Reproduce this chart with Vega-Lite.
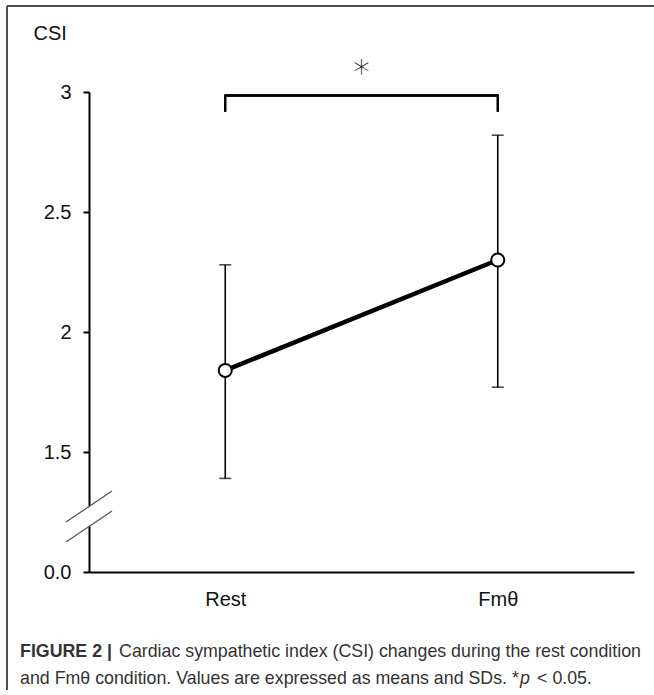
{
  "$schema": "https://vega.github.io/schema/vega-lite/v6.json",
  "width": 545,
  "height": 480,
  "autosize": "none",
  "padding": {"left": 89, "top": 92, "right": 20, "bottom": 123},
  "background": "white",
  "datasets": {
    "csi": [
      {"condition": "Rest", "mean": 1.84, "lo": 1.39, "hi": 2.28},
      {"condition": "Fmθ", "mean": 2.30, "lo": 1.77, "hi": 2.82}
    ]
  },
  "resolve": {"scale": {"x": "independent"}, "axis": {"x": "independent"}},
  "layer": [
    {
      "data": {"name": "csi"},
      "encoding": {
        "x": {
          "field": "condition",
          "type": "ordinal",
          "sort": ["Rest", "Fmθ"],
          "scale": {"type": "point", "padding": 0.5},
          "axis": {
            "title": null,
            "ticks": false,
            "labelAngle": 0,
            "labelPadding": 17,
            "labelFontSize": 20,
            "labelColor": "#111",
            "domainColor": "black",
            "domainWidth": 2
          }
        }
      },
      "layer": [
        {
          "mark": {"type": "rule", "color": "black", "strokeWidth": 1.6},
          "encoding": {
            "y": {
              "field": "lo",
              "type": "quantitative",
              "scale": {"domain": [1, 3], "nice": false, "zero": false},
              "axis": {
                "values": [1, 1.5, 2, 2.5, 3],
                "labelExpr": "datum.value == 1 ? '0.0' : toString(datum.value)",
                "grid": false,
                "title": "CSI",
                "titleAngle": 0,
                "titleAlign": "left",
                "titleBaseline": "alphabetic",
                "titleX": -56,
                "titleY": -53,
                "titleFontSize": 20,
                "titleFontWeight": "normal",
                "titleColor": "#111",
                "labelFontSize": 20,
                "labelColor": "#111",
                "labelPadding": 12,
                "tickSize": 6,
                "tickWidth": 2,
                "tickColor": "black",
                "domainColor": "black",
                "domainWidth": 2
              }
            },
            "y2": {"field": "hi"}
          }
        },
        {
          "mark": {"type": "tick", "color": "black", "thickness": 1.6, "size": 12},
          "encoding": {"y": {"field": "lo", "type": "quantitative"}}
        },
        {
          "mark": {"type": "tick", "color": "black", "thickness": 1.6, "size": 12},
          "encoding": {"y": {"field": "hi", "type": "quantitative"}}
        },
        {
          "mark": {"type": "line", "color": "black", "strokeWidth": 4.5},
          "encoding": {"y": {"field": "mean", "type": "quantitative"}}
        },
        {
          "mark": {"type": "point", "shape": "circle", "filled": true, "fill": "white", "stroke": "black", "strokeWidth": 2, "size": 170, "opacity": 1},
          "encoding": {"y": {"field": "mean", "type": "quantitative"}}
        },
        {
          "mark": {"type": "rule", "color": "black", "strokeWidth": 2.5},
          "encoding": {
            "x": {"datum": "Rest", "type": "ordinal"},
            "x2": {"datum": "Fmθ"},
            "y": {"datum": 2.985, "type": "quantitative"}
          }
        },
        {
          "mark": {"type": "rule", "color": "black", "strokeWidth": 2.5},
          "encoding": {
            "x": {"field": "condition", "type": "ordinal"},
            "y": {"datum": 2.917, "type": "quantitative"},
            "y2": {"datum": 2.99}
          }
        }
      ]
    },
    {
      "data": {"values": [{}]},
      "encoding": {
        "x": {"type": "quantitative", "scale": {"domain": [0, 4], "nice": false, "zero": false}, "axis": null}
      },
      "layer": [
        {
          "mark": {"type": "rule", "color": "#4d4d4d", "strokeWidth": 2},
          "encoding": {"x": {"datum": -0.602, "type": "quantitative"}, "y": {"datum": 0.508, "type": "quantitative"}, "y2": {"datum": 3.358}}
        },
        {
          "mark": {"type": "rule", "color": "#4d4d4d", "strokeWidth": 2},
          "encoding": {"x": {"datum": -0.602, "type": "quantitative"}, "x2": {"datum": 4.3}, "y": {"datum": 3.358, "type": "quantitative"}}
        },
        {
          "mark": {"type": "rule", "color": "white", "strokeWidth": 5},
          "encoding": {"x": {"datum": 0, "type": "quantitative"}, "y": {"datum": 1.19, "type": "quantitative"}, "y2": {"datum": 1.273}}
        },
        {
          "mark": {"type": "rule", "color": "#555", "strokeWidth": 1.3},
          "encoding": {"x": {"datum": -0.169, "type": "quantitative"}, "x2": {"datum": 0.169}, "y": {"datum": 1.2083, "type": "quantitative"}, "y2": {"datum": 1.3375}}
        },
        {
          "mark": {"type": "rule", "color": "#555", "strokeWidth": 1.3},
          "encoding": {"x": {"datum": -0.169, "type": "quantitative"}, "x2": {"datum": 0.169}, "y": {"datum": 1.125, "type": "quantitative"}, "y2": {"datum": 1.254}}
        },
        {
          "mark": {"type": "text", "text": "*", "fontSize": 33, "align": "center", "baseline": "alphabetic", "color": "#111", "font": "DejaVu Sans", "fontWeight": 300},
          "encoding": {"x": {"datum": 2, "type": "quantitative"}, "y": {"datum": 3.035, "type": "quantitative"}}
        },
        {
          "mark": {"type": "text", "text": "FIGURE 2 |", "fontSize": 17.8, "fontWeight": "bold", "align": "left", "baseline": "alphabetic", "color": "#333", "font": "Liberation Sans"},
          "encoding": {"x": {"datum": -0.506, "type": "quantitative"}, "y": {"datum": 0.646, "type": "quantitative"}}
        },
        {
          "mark": {"type": "text", "text": "Cardiac sympathetic index (CSI) changes during the rest condition", "dx": 99, "fontSize": 17.8, "align": "left", "baseline": "alphabetic", "color": "#333", "font": "Liberation Sans"},
          "encoding": {"x": {"datum": -0.506, "type": "quantitative"}, "y": {"datum": 0.646, "type": "quantitative"}}
        },
        {
          "mark": {"type": "text", "text": "and Fmθ condition. Values are expressed as means and SDs. *", "fontSize": 17.8, "align": "left", "baseline": "alphabetic", "color": "#333", "font": "Liberation Sans"},
          "encoding": {"x": {"datum": -0.506, "type": "quantitative"}, "y": {"datum": 0.5333, "type": "quantitative"}}
        },
        {
          "mark": {"type": "text", "text": "p", "dx": 500, "fontSize": 17.8, "fontStyle": "italic", "align": "left", "baseline": "alphabetic", "color": "#333", "font": "Liberation Sans"},
          "encoding": {"x": {"datum": -0.506, "type": "quantitative"}, "y": {"datum": 0.5333, "type": "quantitative"}}
        },
        {
          "mark": {"type": "text", "text": "< 0.05.", "dx": 517, "fontSize": 17.8, "align": "left", "baseline": "alphabetic", "color": "#333", "font": "Liberation Sans"},
          "encoding": {"x": {"datum": -0.506, "type": "quantitative"}, "y": {"datum": 0.5333, "type": "quantitative"}}
        }
      ]
    }
  ],
  "config": {
    "view": {"stroke": null},
    "font": "Liberation Sans"
  }
}
